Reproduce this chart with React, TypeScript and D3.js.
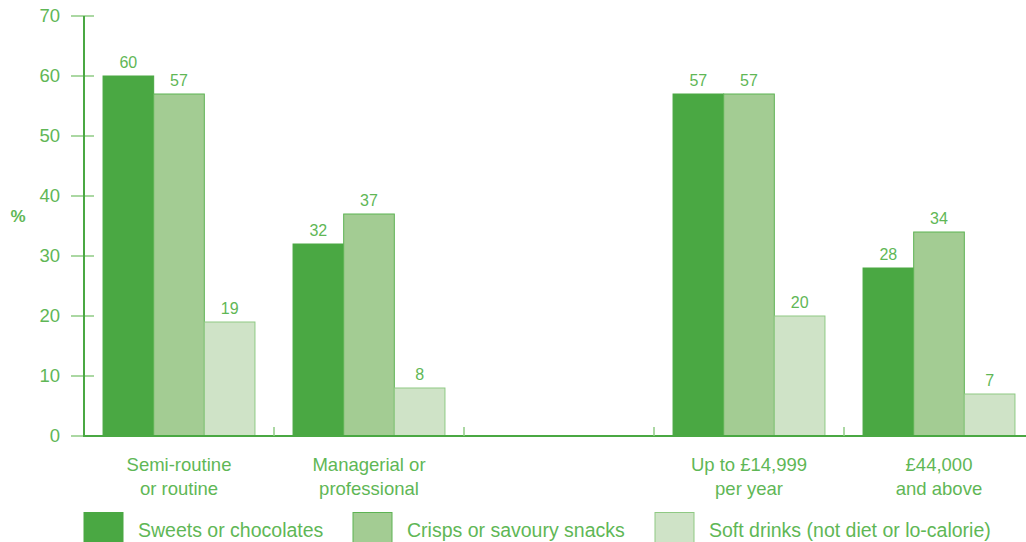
import React from "react";
import * as d3 from "d3";

const categories = ["Semi-routine\nor routine", "Managerial or\nprofessional", "", "Up to £14,999\nper year", "£44,000\nand above"];
const seriesNames = ["Sweets or chocolates", "Crisps or savoury snacks", "Soft drinks (not diet or lo-calorie)"];
const sweets: (number | null)[] = [60, 32, null, 57, 28];
const crisps: (number | null)[] = [57, 37, null, 57, 34];
const softDrinks: (number | null)[] = [19, 8, null, 20, 7];
const yTicks = [0, 10, 20, 30, 40, 50, 60, 70];

const fills = ["#4aa843", "#a3cc93", "#cfe3c7"];
const strokes = ["#4aa843", "#5db353", "#8fc983"];
const textColor = "#5fb756";
const font = "'Liberation Sans', Arial, sans-serif";

export default function App() {
  const W = 1026, H = 542;
  const x0 = 84, x1 = 1034, yTop = 16, yBot = 436;
  const x = d3.scaleBand<number>().domain(categories.map((_, i) => i)).range([x0, x1]).paddingInner(0).paddingOuter(0);
  const y = d3.scaleLinear().domain([0, 70]).range([yBot, yTop]);
  const inner = d3.scaleBand<number>().domain([0, 1, 2]).range([0, x.bandwidth()]).paddingInner(0).paddingOuter(0.376);
  const series = [sweets, crisps, softDrinks];

  return (
    <svg width={W} height={H} style={{ position: "absolute", left: 0, top: 0 }}>
      <rect width={W} height={H} fill="#fff" />
      {yTicks.map((t) => (
        <g key={t}>
          <line x1={71} x2={94} y1={y(t)} y2={y(t)} stroke="#8fcb84" strokeWidth={1.5} />
          <text x={60} y={y(t)} dy="0.35em" textAnchor="end" fontFamily={font} fontSize={18.5} fill={textColor}>{t}</text>
        </g>
      ))}
      <text x={18} y={216} dy="0.35em" textAnchor="middle" fontFamily={font} fontSize={17} fontWeight="bold" fill={textColor}>%</text>
      {series.map((vals, s) =>
        vals.map((v, i) =>
          v == null ? null : (
            <g key={`${s}-${i}`}>
              <rect
                x={(x(i) as number) + (inner(s) as number)}
                y={y(v)}
                width={inner.bandwidth()}
                height={yBot - y(v)}
                fill={fills[s]}
                stroke={strokes[s]}
                strokeWidth={1}
              />
              <text
                x={(x(i) as number) + (inner(s) as number) + inner.bandwidth() / 2}
                y={y(v) - 8}
                textAnchor="middle"
                fontFamily={font}
                fontSize={16}
                fill={textColor}
              >{v}</text>
            </g>
          )
        )
      )}
      <line x1={x0} x2={x0} y1={yTop} y2={yBot + 1} stroke="#4aa843" strokeWidth={2} />
      <line x1={x0} x2={W} y1={yBot} y2={yBot} stroke="#4aa843" strokeWidth={2} />
      {categories.slice(1).map((_, i) => (
        <line key={i} x1={x(i + 1) as number} x2={x(i + 1) as number} y1={yBot - 9} y2={yBot} stroke="#8fcb84" strokeWidth={1.5} />
      ))}
      {categories.map((c, i) => (
        <text key={i} x={(x(i) as number) + x.bandwidth() / 2} y={471} textAnchor="middle" fontFamily={font} fontSize={18.5} fill={textColor}>
          {c.split("\n").map((line, j) => (
            <tspan key={j} x={(x(i) as number) + x.bandwidth() / 2} dy={j === 0 ? 0 : 24}>{line}</tspan>
          ))}
        </text>
      ))}
      {seriesNames.map((n, s) => {
        const lx = [84, 353, 655][s];
        return (
          <g key={n}>
            <rect x={lx} y={512.5} width={39} height={40} fill={fills[s]} stroke={strokes[s]} strokeWidth={1} />
            <text x={lx + 54} y={537} fontFamily={font} fontSize={19.5} fill={textColor}>{n}</text>
          </g>
        );
      })}
    </svg>
  );
}
